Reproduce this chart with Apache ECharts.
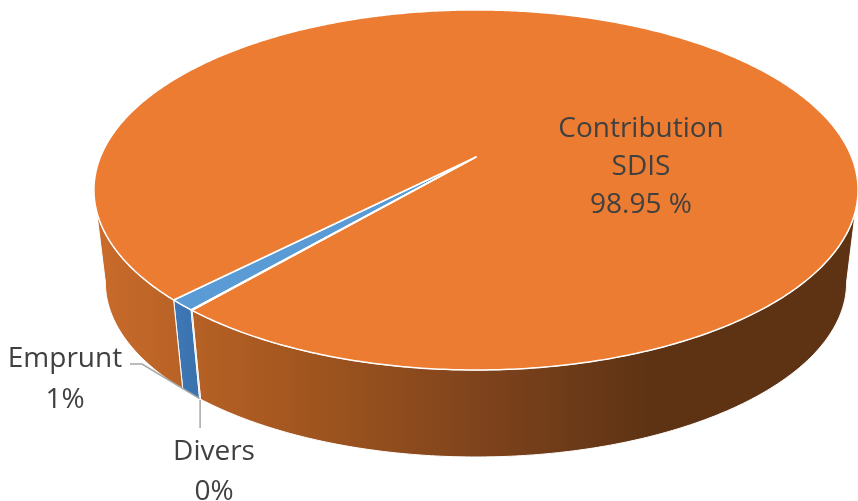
<!DOCTYPE html>
<html>
<head>
<meta charset="utf-8">
<script src="https://cdn.jsdelivr.net/npm/echarts@6/dist/echarts.min.js"></script>
<style>
  html, body { margin: 0; padding: 0; background: #ffffff; }
  #chart { width: 858px; height: 501px; }
</style>
</head>
<body>
<div id="chart"></div>
<script>
// Budget shares, in drawing order (clockwise from the start angle)
const categories = ['Emprunt', 'Contribution SDIS', 'Divers'];
const values = [1.0, 98.95, 0.05];

// Colours of the top faces and of the side walls
const topColors = ['#5b9bd5', '#ec7c31', '#a5a5a5'];
const wallColors = [
  { type: 'linear', x: 170, y: 0, x2: 205, y2: 0, global: true,
    colorStops: [{ offset: 0, color: '#3f79b8' }, { offset: 1, color: '#3a70aa' }] },
  { type: 'linear', x: 95, y: 0, x2: 650, y2: 0, global: true,
    colorStops: [
      { offset: 0, color: '#c96b2b' },
      { offset: 0.37, color: '#a2561f' },
      { offset: 0.7, color: '#7e431c' },
      { offset: 1, color: '#5e3314' }
    ] },
  '#7d7d7d'
];

// Projection of the tilted disc
const CX = 476, CY = 157;        // projected centre of the top face
const RX = 375.6, RY = 174;      // radii before perspective
const K = 0.183;                 // perspective strength (near side larger)
const SHRINK = 0.97;             // lower face sits farther from the eye
const DROP = 93.4;               // vertical offset of the lower face
const START = 130.8 * Math.PI / 180;

const total = values.reduce((a, b) => a + b, 0);
const starts = [];
let acc = START;
values.forEach(v => { starts.push(acc); acc += v / total * Math.PI * 2; });

function rimTop(theta) {
  const X = Math.cos(theta), Y = Math.sin(theta);
  const s = 1 / (1 - K * Y);
  return [CX + RX * X * s, CY + RY * Y * s];
}
function rimBottom(theta) {
  const p = rimTop(theta);
  return [CX + (p[0] - CX) * SHRINK, CY + (p[1] - CY) * SHRINK + DROP];
}

function arc(a0, a1, fn) {
  const n = Math.max(2, Math.ceil(Math.abs(a1 - a0) / 0.01));
  const pts = [];
  for (let i = 0; i <= n; i++) pts.push(fn(a0 + (a1 - a0) * i / n));
  return pts;
}

// Front-facing part of the rim lies between the two silhouette points
const VIS0 = Math.asin(K), VIS1 = Math.PI - Math.asin(K);

function wallPieces(a0, a1) {
  const out = [];
  for (let n = -1; n <= 2; n++) {
    const lo = Math.max(a0, VIS0 + n * 2 * Math.PI);
    const hi = Math.min(a1, VIS1 + n * 2 * Math.PI);
    if (hi > lo) out.push(arc(lo, hi, rimTop).concat(arc(hi, lo, rimBottom)));
  }
  return out;
}

const FONT = '"Open Sans", "Noto Sans", sans-serif';
const TEXT = '#404040';

function labelText(i) {
  const pct = values[i] / total * 100;
  if (i === 1) return 'Contribution\nSDIS\n' + values[i].toFixed(2) + ' %';
  return categories[i] + '\n' + Math.round(pct) + '%';
}

function renderItem(params, api) {
  const i = params.dataIndex;
  const a0 = starts[i];
  const a1 = a0 + api.value(0) / total * Math.PI * 2;
  const children = [];

  wallPieces(a0, a1).forEach(pts => {
    children.push({
      type: 'polygon', z2: 1,
      shape: { points: pts },
      style: { fill: wallColors[i], stroke: '#ffffff', lineWidth: 1 }
    });
  });

  children.push({
    type: 'polygon', z2: 2,
    shape: { points: [[CX, CY]].concat(arc(a0, a1, rimTop)) },
    style: { fill: topColors[i], stroke: '#ffffff', lineWidth: 1.5, lineJoin: 'round' }
  });

  if (i === 1) {
    children.push({
      type: 'text', z2: 5,
      style: { text: labelText(i), x: 641, y: 167, fill: TEXT, font: '28px ' + FONT,
        align: 'center', verticalAlign: 'middle', lineHeight: 38 }
    });
  } else if (i === 0) {
    const end = rimBottom(a0);
    children.push({
      type: 'polyline', z2: 4,
      shape: { points: [[130, 364], [142, 364], end] },
      style: { stroke: '#a6a6a6', lineWidth: 1.5, fill: null }
    });
    children.push({
      type: 'text', z2: 5,
      style: { text: labelText(i), x: 65, y: 380, fill: TEXT, font: '28px ' + FONT,
        align: 'center', verticalAlign: 'middle', lineHeight: 41 }
    });
  } else {
    const top = rimBottom((a0 + a1) / 2);
    children.push({
      type: 'polyline', z2: 4,
      shape: { points: [[top[0], top[1] + 1], [top[0], 428]] },
      style: { stroke: '#a6a6a6', lineWidth: 1.5, fill: null }
    });
    children.push({
      type: 'text', z2: 5,
      style: { text: labelText(i), x: 214, y: 472, fill: TEXT, font: '28px ' + FONT,
        align: 'center', verticalAlign: 'middle', lineHeight: 40 }
    });
  }

  return { type: 'group', children: children };
}

const chart = echarts.init(document.getElementById('chart'), null, { renderer: 'canvas' });
chart.setOption({
  animation: false,
  backgroundColor: '#ffffff',
  series: [{
    type: 'custom',
    coordinateSystem: 'none',
    renderItem: renderItem,
    data: values.map((v, i) => ({ name: categories[i], value: [v] }))
  }]
});
</script>
</body>
</html>
